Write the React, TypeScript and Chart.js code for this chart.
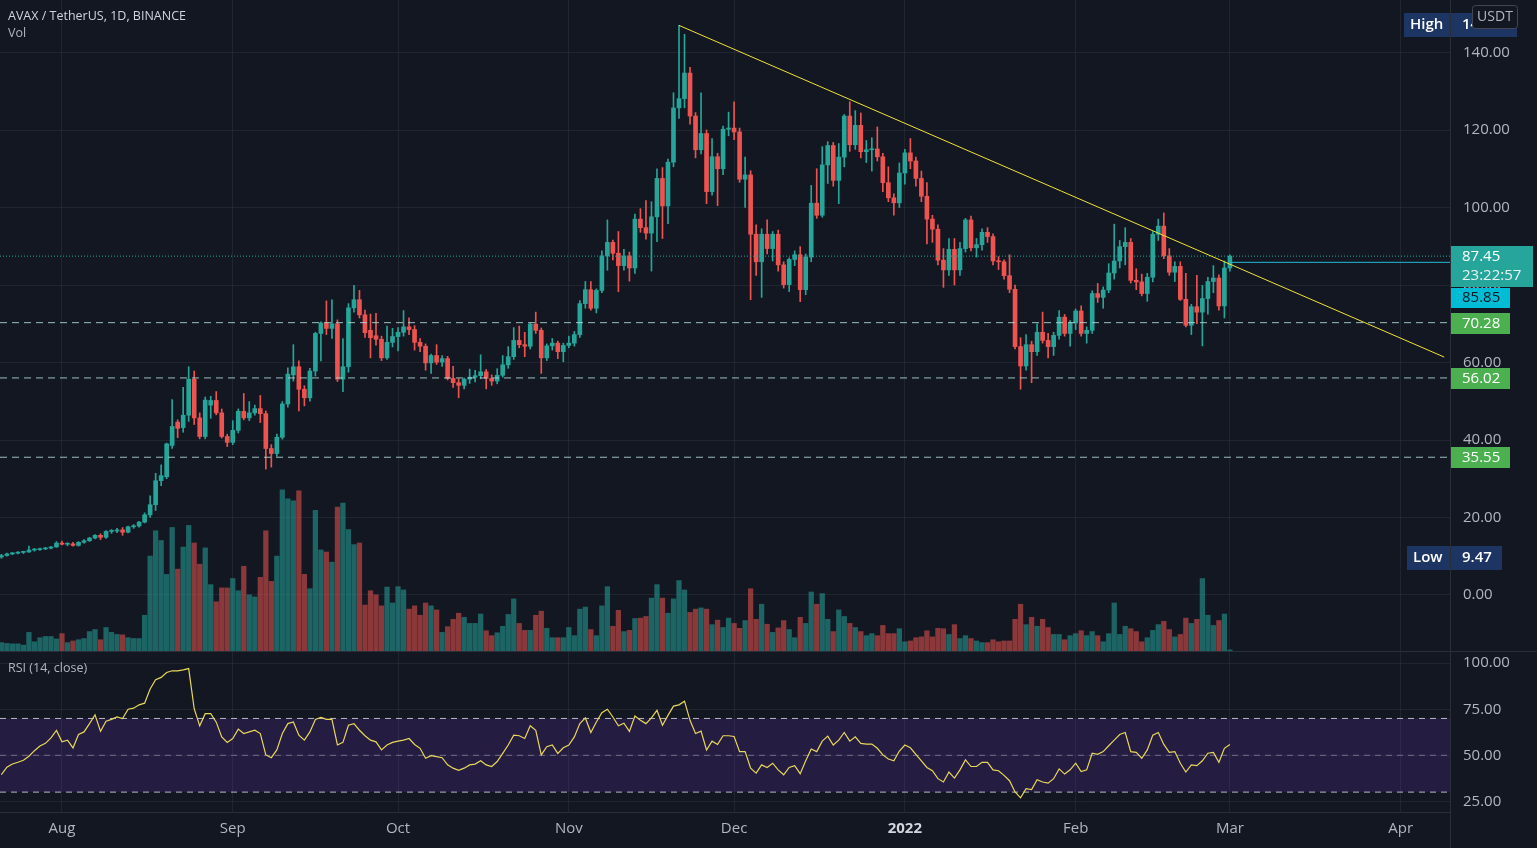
import { useEffect, useRef } from 'react';
import { Chart, registerables } from 'chart.js';

Chart.register(...registerables);

// Day 0 = 2021-08-01; first candle is 2021-07-21
const FIRST_DAY = -11;

const OPEN = [
  9.8, 10.2, 10.6, 10.8, 11.0, 11.1, 11.6, 11.7, 11.9, 12.1, 12.4,
  13.4, 13.1, 13.2, 12.8, 13.6, 14.0, 14.7, 15.4, 14.9, 16.4,
  16.5, 16.8, 16.2, 17.6, 17.8, 18.8, 20.7, 23.3, 29.5, 30.5,
  38.6, 44.6, 43.2, 46.4, 55.7, 45.7, 40.9, 49.0, 50.2, 47.0,
  40.9, 39.4, 42.5, 47.4, 45.7, 47.0, 48.1, 46.8, 37.8, 36.5,
  40.7, 49.3, 56.8, 58.9, 53.1, 50.9, 57.8, 67.5, 70.2, 68.8,
  70.0, 55.7, 58.9, 74.1, 76.2, 72.3, 68.3, 66.9, 66.0, 61.2,
  65.2, 66.7, 67.8, 69.2, 68.5, 65.2, 64.2, 59.9, 61.8, 60.1,
  61.0, 55.9, 54.8, 54.1, 55.7, 56.2, 56.6, 57.6, 55.9, 55.2,
  56.7, 59.4, 61.5, 65.7, 64.6, 64.2, 69.9, 68.3, 61.2, 64.3,
  65.0, 62.8, 64.4, 65.0, 67.2, 75.2, 78.8, 74.0, 78.6, 87.5,
  91.0, 88.2, 85.0, 87.5, 84.4, 97.0, 94.8, 93.4, 97.6, 107.5,
  100.4, 111.7, 125.7, 128.1, 134.7, 123.6, 114.9, 119.1, 104.1, 113.1,
  110.0, 120.2, 120.5, 119.5, 107.3, 108.4, 93.1, 86.0, 93.1, 89.4,
  93.1, 85.2, 80.1, 86.6, 87.8, 78.8, 87.2, 101.1, 98.0, 111.0,
  116.0, 107.0, 113.0, 123.6, 116.2, 121.2, 114.4, 114.9, 115.1, 113.1,
  106.4, 102.5, 101.2, 108.9, 114.1, 112.0, 107.5, 102.9, 97.0, 94.4,
  86.4, 83.9, 89.2, 83.9, 89.4, 96.8, 89.6, 90.4, 93.6, 92.5,
  86.2, 86.0, 82.4, 78.9, 64.1, 59.1, 64.6, 62.8, 67.8, 65.7,
  64.1, 67.0, 71.7, 67.5, 70.2, 73.3, 67.5, 68.3, 77.8, 76.8,
  78.7, 83.1, 86.2, 89.9, 91.0, 81.2, 80.8, 77.8, 82.0, 93.1,
  95.2, 87.5, 83.3, 84.8, 76.3, 69.6, 74.4, 73.0, 76.5, 80.9,
  81.8, 74.6, 84.4,
];

const HIGH = [
  10.5, 10.8, 11.0, 11.2, 11.3, 12.6, 12.0, 12.1, 12.3, 12.5, 13.8,
  13.9, 13.5, 13.6, 13.8, 14.3, 14.9, 15.6, 15.8, 16.6, 16.9,
  17.2, 17.4, 17.8, 18.2, 19.0, 21.2, 25.6, 31.4, 33.6, 39.2,
  50.4, 45.2, 53.6, 58.9, 57.8, 47.0, 51.1, 51.3, 52.5, 48.0,
  41.5, 45.0, 48.0, 52.0, 49.9, 49.0, 51.5, 47.5, 38.8, 41.5,
  49.9, 58.6, 64.6, 60.4, 54.0, 58.5, 67.8, 70.5, 75.9, 76.2,
  71.0, 66.2, 75.2, 79.9, 78.6, 73.5, 72.5, 72.7, 66.8, 69.4,
  68.8, 69.0, 73.4, 71.5, 69.5, 66.2, 64.8, 62.2, 64.6, 61.8,
  61.6, 59.0, 55.8, 56.0, 58.3, 58.0, 62.0, 58.2, 56.8, 58.4,
  61.8, 64.1, 69.0, 69.4, 67.8, 70.2, 73.0, 68.9, 64.8, 66.2,
  65.5, 65.0, 66.8, 68.0, 76.0, 80.9, 80.9, 79.0, 88.8, 96.8,
  91.6, 93.8, 89.2, 88.5, 98.3, 99.7, 101.8, 101.5, 110.0, 110.3,
  112.5, 129.6, 147.0, 144.7, 136.2, 124.5, 129.6, 120.0, 117.8, 114.0,
  121.0, 124.6, 127.3, 120.5, 113.0, 109.5, 95.5, 94.5, 96.8, 93.8,
  94.2, 86.0, 87.0, 88.8, 89.9, 88.0, 105.7, 110.0, 115.7, 117.0,
  116.8, 116.5, 124.0, 127.3, 125.0, 124.4, 117.3, 118.0, 120.8, 114.0,
  110.5, 103.5, 111.5, 115.0, 117.8, 113.0, 109.4, 106.4, 98.0, 95.5,
  89.4, 92.0, 92.0, 91.0, 97.2, 97.8, 92.0, 94.5, 94.8, 93.2,
  87.3, 86.5, 87.8, 80.0, 66.4, 67.2, 65.5, 70.0, 73.0, 67.5,
  67.8, 73.4, 72.4, 70.8, 73.8, 74.6, 69.2, 78.5, 80.4, 79.5,
  85.5, 95.7, 91.5, 94.8, 92.0, 84.2, 82.8, 83.0, 93.8, 97.0,
  98.6, 89.4, 86.0, 86.0, 83.0, 75.0, 82.5, 79.9, 82.0, 85.0,
  82.6, 86.2, 87.8,
];

const LOW = [
  9.47, 10.0, 10.4, 10.6, 10.7, 11.0, 11.3, 11.5, 11.7, 11.9, 12.3,
  12.9, 12.7, 12.6, 12.6, 13.4, 13.8, 14.5, 14.3, 14.6, 15.9,
  16.1, 15.4, 16.0, 17.2, 17.5, 18.6, 20.0, 21.8, 28.2, 30.0,
  37.8, 40.6, 42.0, 44.8, 44.0, 40.3, 40.3, 45.6, 46.5, 40.5,
  38.3, 38.8, 41.8, 45.2, 45.0, 46.4, 44.5, 32.5, 33.0, 35.8,
  40.2, 48.5, 55.2, 47.5, 48.8, 50.0, 56.5, 60.4, 67.2, 66.2,
  55.1, 52.5, 57.5, 73.0, 71.5, 66.5, 61.2, 64.5, 60.5, 60.8,
  64.0, 63.0, 66.8, 67.2, 63.2, 62.8, 58.0, 57.2, 59.5, 59.0,
  55.5, 53.6, 50.9, 53.2, 54.6, 55.0, 55.8, 53.2, 54.1, 54.5,
  56.2, 58.5, 60.8, 63.8, 61.5, 63.5, 67.5, 57.2, 60.5, 63.2,
  61.0, 60.2, 63.8, 64.2, 66.5, 74.0, 73.5, 72.8, 78.0, 83.8,
  86.5, 78.3, 83.8, 81.0, 83.0, 93.6, 91.8, 83.6, 91.2, 92.0,
  95.8, 110.5, 123.0, 125.7, 121.5, 112.8, 113.8, 101.0, 103.2, 100.5,
  108.5, 118.5, 117.5, 106.5, 100.0, 76.2, 82.5, 76.8, 88.0, 86.2,
  83.6, 79.2, 78.3, 85.0, 75.7, 77.5, 86.0, 97.2, 97.5, 106.2,
  105.5, 101.0, 110.5, 114.5, 115.0, 112.8, 111.6, 109.4, 112.0, 104.1,
  101.5, 98.0, 100.0, 106.0, 110.0, 105.5, 101.5, 90.6, 91.0, 85.2,
  79.4, 82.5, 80.0, 82.5, 88.5, 88.8, 87.2, 89.0, 91.0, 85.2,
  84.0, 81.5, 78.0, 63.5, 53.1, 58.0, 54.8, 61.8, 65.0, 61.2,
  61.8, 66.0, 66.8, 64.2, 68.5, 66.8, 65.0, 67.5, 75.5, 74.0,
  78.0, 81.5, 84.4, 85.2, 80.5, 78.8, 77.2, 75.8, 80.8, 91.5,
  86.8, 82.5, 80.9, 76.0, 69.2, 67.2, 70.0, 64.3, 72.5, 78.0,
  73.5, 71.5, 83.6,
];

const CLOSE = [
  10.2, 10.6, 10.8, 11.0, 11.1, 11.6, 11.7, 11.9, 12.1, 12.4, 13.4,
  13.1, 13.2, 12.8, 13.6, 14.0, 14.7, 15.4, 14.9, 16.4, 16.5,
  16.8, 16.2, 17.6, 17.8, 18.8, 20.7, 23.3, 29.5, 30.8, 39.0,
  43.5, 43.0, 46.4, 55.7, 45.7, 40.9, 50.3, 50.2, 47.0, 40.9,
  39.4, 42.5, 47.4, 45.7, 47.0, 48.1, 46.8, 37.8, 36.5, 40.7,
  49.3, 57.0, 58.9, 53.1, 50.9, 57.8, 67.5, 70.2, 68.8, 70.0,
  55.7, 58.9, 74.1, 76.2, 72.3, 67.7, 66.4, 66.0, 61.2, 65.2,
  66.7, 67.8, 69.2, 68.5, 65.2, 64.2, 59.9, 61.8, 60.1, 61.0,
  55.9, 54.8, 54.1, 55.7, 56.2, 56.6, 57.6, 55.9, 55.2, 56.7,
  59.4, 61.5, 65.7, 64.6, 64.2, 69.9, 68.3, 61.2, 64.3, 65.0,
  62.8, 64.4, 65.0, 67.2, 75.2, 78.8, 74.0, 78.6, 87.5, 91.0,
  88.2, 85.0, 87.5, 84.4, 97.0, 94.8, 93.4, 97.6, 107.5, 100.4,
  111.7, 125.7, 128.1, 134.7, 123.6, 114.9, 119.1, 104.1, 113.1, 110.0,
  120.2, 120.5, 119.5, 107.3, 108.4, 93.1, 86.0, 93.1, 89.4, 93.1,
  85.2, 80.1, 86.6, 87.8, 78.8, 87.2, 101.1, 98.0, 111.0, 116.0,
  107.0, 113.0, 123.6, 116.2, 121.2, 114.4, 114.9, 115.1, 113.1, 106.4,
  102.5, 101.2, 108.9, 114.1, 112.0, 107.5, 102.9, 97.0, 94.4, 86.4,
  83.9, 89.2, 83.9, 89.4, 96.8, 89.6, 90.4, 93.6, 92.5, 86.2,
  86.0, 82.4, 78.9, 64.1, 59.1, 64.6, 62.8, 67.8, 65.7, 64.1,
  67.0, 71.7, 67.5, 70.2, 73.3, 67.5, 68.3, 77.8, 76.8, 78.7,
  83.1, 86.2, 89.9, 91.0, 81.2, 80.8, 77.8, 82.0, 93.1, 95.2,
  87.5, 83.3, 84.8, 76.3, 69.6, 74.4, 73.0, 76.5, 80.9, 81.8,
  74.6, 84.4, 87.45,
];

const VOLUME = [
  23, 21, 20, 20, 17, 48, 25, 35, 38, 38, 32,
  45, 23, 27, 30, 33, 50, 55, 30, 60, 48,
  43, 42, 35, 33, 33, 90, 235, 297, 273, 190,
  305, 203, 257, 310, 267, 215, 255, 165, 123, 157,
  157, 180, 150, 210, 140, 135, 183, 297, 173, 235,
  397, 375, 370, 395, 190, 155, 347, 250, 245, 220,
  355, 365, 300, 263, 267, 115, 150, 140, 113, 159,
  120, 160, 152, 105, 113, 90, 120, 113, 103, 48,
  62, 80, 95, 85, 70, 70, 93, 52, 40, 47,
  63, 92, 130, 70, 53, 53, 90, 100, 58, 35,
  35, 35, 60, 40, 105, 110, 55, 40, 113, 160,
  63, 102, 50, 53, 82, 83, 87, 132, 165, 132,
  95, 130, 175, 152, 97, 105, 108, 105, 67, 78,
  60, 83, 70, 58, 77, 155, 80, 117, 68, 48,
  59, 77, 55, 35, 85, 70, 147, 117, 143, 80,
  50, 103, 87, 70, 60, 50, 40, 45, 40, 65,
  45, 45, 57, 25, 27, 35, 37, 52, 37, 58,
  57, 43, 67, 33, 40, 33, 27, 23, 23, 30,
  25, 27, 27, 80, 117, 67, 85, 63, 80, 60,
  43, 43, 30, 40, 45, 52, 40, 50, 40, 25,
  45, 120, 43, 63, 57, 50, 25, 35, 53, 67,
  75, 55, 37, 43, 83, 70, 80, 180, 90, 65,
  77, 93, 5,
];

const RSI = [
  39.5, 43.5, 45.3, 46.2, 47.3, 49.5, 52.5, 55, 56.5, 59.5, 63.5,
  57.3, 58.2, 54, 61.3, 62.7, 67.2, 72, 63, 68.5, 69.5,
  70.8, 70, 75, 75.6, 77.4, 78.3, 86, 91, 92.3, 95,
  95.9, 95.9, 96.4, 97.1, 75.3, 66, 72.6, 72.6, 68, 60,
  57, 59.1, 64.2, 61.8, 62.7, 63.6, 61.8, 50.2, 48.7, 52.9,
  61.8, 67.2, 68.1, 60.9, 58.2, 62.7, 69.5, 70.6, 69.5, 69.5,
  55.6, 57, 66.3, 67.2, 63.6, 60.6, 58.2, 57.3, 52.9, 55.6,
  57, 57.7, 58.2, 59.1, 55.9, 53.8, 48.4, 49.8, 49.3, 48.7,
  44.8, 43, 41.8, 43, 44.8, 45.2, 47, 44.8, 43.9, 46.6,
  51, 55.6, 60.9, 60.6, 59.1, 66, 63.6, 50.2, 54.7, 55.6,
  51, 54.1, 55.6, 60, 67.2, 70.3, 62.4, 68.1, 73.1, 75,
  70.8, 66, 67.4, 63, 71.3, 69, 67.2, 70.3, 74.4, 66.3,
  71.7, 76.7, 77.4, 79.4, 69, 61.8, 63.1, 52.9, 57.7, 55.9,
  60.6, 60.6, 60.2, 52, 52, 43, 40.3, 44.8, 43.4, 45.7,
  42.1, 39.4, 43.4, 44.4, 40, 47, 53.4, 52, 57.7, 60.4,
  55.6, 58.2, 62.4, 57.7, 60, 56.5, 56.1, 56.1, 53.8, 50.2,
  48, 47, 52.3, 55.6, 54.1, 50.5, 47, 43.4, 41.6, 37.3,
  35.5, 40.9, 37.6, 42.1, 47.5, 43.9, 43.9, 46.2, 46.2, 42.1,
  41.6, 39.1, 36.2, 30.1, 26.9, 31.9, 31.4, 36.7, 35.5, 34.9,
  37.3, 42.6, 39.8, 42.1, 45.7, 41.2, 42.1, 51.1, 50.5, 52,
  55.2, 58.2, 61.3, 62.4, 52, 51.6, 48.4, 52.9, 60.9, 62.4,
  55.9, 51.6, 52, 45.7, 40.9, 44.8, 44.4, 47, 51.1, 51.6,
  46.2, 53.8, 55.9,
];

// Axis ticks (days since 2021-08-01) and labels
const MONTH_TICKS = [0, 31, 61, 92, 122, 153, 184, 212, 243];
const MONTH_LABELS = ['Aug', 'Sep', 'Oct', 'Nov', 'Dec', '2022', 'Feb', 'Mar', 'Apr'];
const PRICE_TICKS = [0, 20, 40, 60, 80, 100, 120, 140];
const RSI_TICKS = [25, 50, 75, 100];

// Drawn levels
const H_LEVELS = [70.28, 56.02, 35.55];
const RAY_LEVEL = 85.85;
const TREND_DAYS = [112, 250.9];
const TREND_PRICES = [147.0, 61.4];
const RSI_BAND = [30, 70];
const RSI_MID = 50;
const COUNTDOWN = '23:22:57';

// Layout / style constants
const X_MIN = -11.25;
const X_MAX = 251.95;
const PRICE_MIN = -14.71;
const PRICE_MAX = 153.55;
const VOL_MAX = 1597;
const RSI_MIN = 19.2;
const RSI_MAX = 106.1;
const AXIS_W = 87;

const BG = '#131722';
const GRID = 'rgba(42,46,57,0.6)';
const BORDER = '#2a2e39';
const TEXT = '#b2b5be';
const UP = '#26a69a';
const DOWN = '#ef5350';
const UP_VOL = 'rgba(38,166,154,0.55)';
const DOWN_VOL = 'rgba(239,83,80,0.55)';
const FONT = '"Open Sans", "DejaVu Sans", sans-serif';

function fixAxis(width?: number, height?: number) {
  return (scale: any) => {
    if (width !== undefined) scale.width = width;
    if (height !== undefined) scale.height = height;
    scale.paddingTop = 0;
    scale.paddingBottom = 0;
    scale.paddingLeft = 0;
    scale.paddingRight = 0;
  };
}

const priceAxisLabels = {
  id: 'priceAxisLabels',
  afterDraw(chart: any) {
    const { ctx, chartArea } = chart;
    const ys = chart.scales.y;
    const L = chartArea.right;
    const last = CLOSE[CLOSE.length - 1];
    const hi = Math.max(...HIGH);
    const lo = Math.min(...LOW);
    ctx.save();
    ctx.textBaseline = 'middle';
    ctx.textAlign = 'left';
    ctx.font = `15px ${FONT}`;
    const box = (x: number, y: number, w: number, h: number, bg: string) => {
      ctx.fillStyle = bg;
      ctx.fillRect(x, y, w, h);
    };
    const text = (t: string, x: number, y: number, c: string) => {
      ctx.fillStyle = c;
      ctx.fillText(t, x, y);
    };
    // horizontal level labels
    H_LEVELS.forEach((v) => {
      const cy = Math.round(ys.getPixelForValue(v));
      box(L + 1, cy - 10, 59, 21, '#4caf50');
      text(v.toFixed(2), L + 12, cy + 1, '#ffffff');
    });
    // last price + countdown
    const cl = Math.round(ys.getPixelForValue(last));
    box(L + 1, cl - 10, 82, 41, UP);
    text(last.toFixed(2), L + 12, cl + 1, '#ffffff');
    text(COUNTDOWN, L + 12, cl + 20, '#e8f5f3');
    // ray label (pushed below the last price label)
    box(L + 1, cl + 32, 59, 20, '#00bcd4');
    text(RAY_LEVEL.toFixed(2), L + 12, cl + 42, '#131722');
    // High / Low
    const ch = Math.round(ys.getPixelForValue(hi));
    box(L - 46, ch - 12, 46, 24, '#1c3563');
    box(L + 1, ch - 12, 66, 24, '#1c3563');
    ctx.font = `600 15px ${FONT}`;
    text('High', L - 40, ch, '#ffffff');
    text(hi.toFixed(2), L + 12, ch, '#ffffff');
    const cw = Math.round(ys.getPixelForValue(lo));
    box(L - 43, cw - 12, 43, 24, '#1c3563');
    box(L + 1, cw - 12, 51, 24, '#1c3563');
    text('Low', L - 37, cw, '#ffffff');
    text(lo.toFixed(2), L + 12, cw, '#ffffff');
    // currency badge
    ctx.font = `14px ${FONT}`;
    ctx.fillStyle = BG;
    ctx.strokeStyle = '#434651';
    ctx.lineWidth = 1;
    ctx.beginPath();
    if ((ctx as any).roundRect) (ctx as any).roundRect(L + 22.5, 5.5, 45, 23, 3);
    else ctx.rect(L + 22.5, 5.5, 45, 23);
    ctx.fill();
    ctx.stroke();
    ctx.textAlign = 'center';
    text('USDT', L + 45, 17.5, TEXT);
    ctx.restore();
  },
};

export default function App() {
  const priceRef = useRef<HTMLCanvasElement>(null);
  const rsiRef = useRef<HTMLCanvasElement>(null);

  useEffect(() => {
    document.body.style.margin = '0';
    document.body.style.background = BG;
    const days = CLOSE.map((_, i) => FIRST_DAY + i);
    const isUp = CLOSE.map((c, i) => c >= OPEN[i]);
    const candleColor = isUp.map((u) => (u ? UP : DOWN));
    const volColor = isUp.map((u) => (u ? UP_VOL : DOWN_VOL));
    const lastDay = days[days.length - 1];
    const last = CLOSE[CLOSE.length - 1];

    const hLine = (v: number, color: string, dash: number[], from = X_MIN) => ({
      type: 'line' as const,
      data: [
        { x: from, y: v },
        { x: X_MAX, y: v },
      ],
      borderColor: color,
      borderWidth: 1,
      borderDash: dash,
      pointRadius: 0,
      fill: false,
      order: 2,
    });

    const monthTicks = (scale: any) => {
      scale.ticks = MONTH_TICKS.map((v) => ({ value: v }));
    };

    const xCommon = {
      type: 'linear' as const,
      min: X_MIN,
      max: X_MAX,
      offset: false,
      afterBuildTicks: monthTicks,
    };

    const c1 = new Chart(priceRef.current as HTMLCanvasElement, {
      type: 'bar',
      data: {
        datasets: [
          ...H_LEVELS.map((v) => hLine(v, 'rgba(178,223,219,0.85)', [7, 5])),
          hLine(last, UP, [1, 2]),
          hLine(RAY_LEVEL, '#22b8cf', [], lastDay),
          {
            type: 'line' as const,
            data: TREND_DAYS.map((d, i) => ({ x: d, y: TREND_PRICES[i] })),
            borderColor: '#f2e33a',
            borderWidth: 1,
            pointRadius: 0,
            fill: false,
            order: 1,
          },
          {
            type: 'bar' as const,
            data: days.map((d, i) => ({ x: d, y: [LOW[i], HIGH[i]] })),
            backgroundColor: candleColor,
            barThickness: 1,
            grouped: false,
            borderWidth: 0,
            order: 5,
          },
          {
            type: 'bar' as const,
            data: days.map((d, i) => ({ x: d, y: [Math.min(OPEN[i], CLOSE[i]), Math.max(OPEN[i], CLOSE[i])] })),
            backgroundColor: candleColor,
            barThickness: 4,
            minBarLength: 1,
            grouped: false,
            borderWidth: 0,
            order: 4,
          },
          {
            type: 'bar' as const,
            data: days.map((d, i) => ({ x: d, y: VOLUME[i] })),
            backgroundColor: volColor,
            yAxisID: 'yVol',
            barThickness: 4.6,
            grouped: false,
            borderWidth: 0,
            order: 10,
          },
        ] as any,
      },
      options: {
        responsive: false,
        maintainAspectRatio: false,
        animation: false,
        devicePixelRatio: 1,
        events: [],
        layout: { padding: 0 },
        plugins: { legend: { display: false }, tooltip: { enabled: false } },
        scales: {
          x: {
            ...xCommon,
            ticks: { display: false },
            grid: { color: GRID, drawTicks: false, offset: false },
            border: { display: false },
            afterFit: fixAxis(undefined, 0),
          },
          y: {
            type: 'linear',
            position: 'right',
            min: PRICE_MIN,
            max: PRICE_MAX,
            afterBuildTicks: (scale: any) => {
              scale.ticks = PRICE_TICKS.map((v) => ({ value: v }));
            },
            afterFit: fixAxis(AXIS_W),
            ticks: {
              color: TEXT,
              padding: 13,
              font: { family: FONT, size: 15 },
              callback: (v: any) => Number(v).toFixed(2),
            },
            grid: { color: GRID, drawTicks: false },
            border: { display: true, color: BORDER },
          },
          yVol: {
            type: 'linear',
            display: false,
            min: 0,
            max: VOL_MAX,
          },
        },
      } as any,
      plugins: [priceAxisLabels],
    });

    const c2 = new Chart(rsiRef.current as HTMLCanvasElement, {
      type: 'line',
      data: {
        datasets: [
          {
            data: [
              { x: X_MIN, y: RSI_BAND[1] },
              { x: X_MAX, y: RSI_BAND[1] },
            ],
            borderWidth: 0,
            borderColor: 'rgba(0,0,0,0)',
            pointRadius: 0,
            fill: { value: RSI_BAND[0] },
            backgroundColor: 'rgba(110,50,190,0.2)',
            order: 5,
          },
          hLine(RSI_BAND[1], 'rgba(210,212,220,0.85)', [6, 5]),
          hLine(RSI_MID, 'rgba(160,160,175,0.6)', [6, 5]),
          hLine(RSI_BAND[0], 'rgba(210,212,220,0.85)', [6, 5]),
          {
            data: days.map((d, i) => ({ x: d, y: RSI[i] })),
            borderColor: '#e9d75a',
            borderWidth: 1.2,
            pointRadius: 0,
            fill: false,
            tension: 0,
            order: 1,
          },
        ] as any,
      },
      options: {
        responsive: false,
        maintainAspectRatio: false,
        animation: false,
        devicePixelRatio: 1,
        events: [],
        layout: { padding: 0 },
        plugins: { legend: { display: false }, tooltip: { enabled: false } },
        scales: {
          x: {
            ...xCommon,
            afterFit: fixAxis(undefined, 36),
            ticks: {
              maxRotation: 0,
              autoSkip: false,
              padding: 8,
              color: (ctx: any) => (ctx.index === 5 ? '#d1d4dc' : TEXT),
              font: (ctx: any) => ({ family: FONT, size: 15, weight: ctx.index === 5 ? 'bold' : 'normal' }),
              callback: (v: any) => MONTH_LABELS[MONTH_TICKS.indexOf(Number(v))] ?? '',
            },
            grid: { color: GRID, drawTicks: false, offset: false },
            border: { display: true, color: BORDER },
          },
          y: {
            type: 'linear',
            position: 'right',
            min: RSI_MIN,
            max: RSI_MAX,
            afterBuildTicks: (scale: any) => {
              scale.ticks = RSI_TICKS.map((v) => ({ value: v }));
            },
            afterFit: fixAxis(AXIS_W),
            ticks: {
              color: TEXT,
              padding: 13,
              font: { family: FONT, size: 15 },
              callback: (v: any) => Number(v).toFixed(2),
            },
            grid: { color: GRID, drawTicks: false },
            border: { display: true, color: BORDER },
          },
        },
      } as any,
    });

    return () => {
      c1.destroy();
      c2.destroy();
    };
  }, []);

  return (
    <div
      style={{
        position: 'fixed',
        left: 0,
        top: 0,
        width: 1537,
        height: 848,
        background: BG,
        overflow: 'hidden',
        fontFamily: FONT,
      }}
    >
      <canvas ref={priceRef} width={1537} height={652} style={{ position: 'absolute', left: 0, top: 0 }} />
      <canvas ref={rsiRef} width={1537} height={196} style={{ position: 'absolute', left: 0, top: 652 }} />
      <div style={{ position: 'absolute', left: 0, top: 651, width: 1537, height: 1, background: BORDER }} />
      <div style={{ position: 'absolute', left: 1450, top: 812, width: 1, height: 36, background: BORDER }} />
      <div style={{ position: 'absolute', left: 8, top: 7, fontSize: 12.5, color: '#d1d4dc', lineHeight: '18px' }}>
        AVAX / TetherUS, 1D, BINANCE
      </div>
      <div style={{ position: 'absolute', left: 8, top: 24, fontSize: 12.5, color: TEXT, lineHeight: '18px' }}>Vol</div>
      <div style={{ position: 'absolute', left: 8, top: 659, fontSize: 12.5, color: TEXT, lineHeight: '18px' }}>
        RSI (14, close)
      </div>
    </div>
  );
}
